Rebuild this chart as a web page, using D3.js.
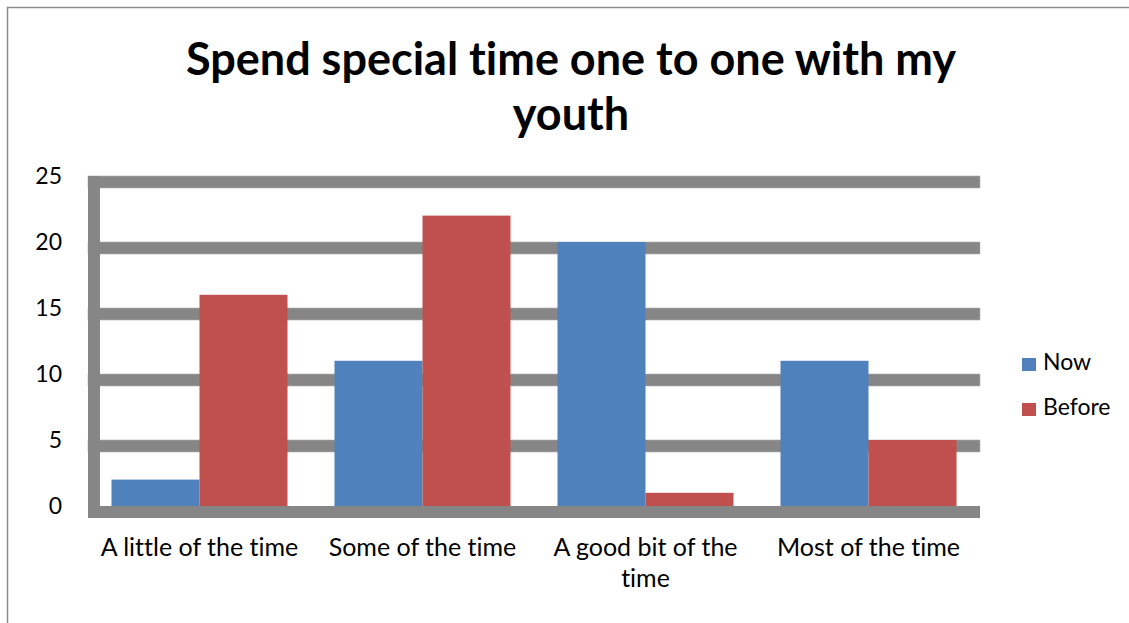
<!DOCTYPE html>
<html>
<head>
<meta charset="utf-8">
<script src="https://cdn.jsdelivr.net/npm/d3@7"></script>
<style>
  body { margin: 0; background: #fff; }
  svg text { font-family: Lato, "Liberation Sans", Arial, sans-serif; fill: #000; font-variant-ligatures: none; }
</style>
</head>
<body>
<svg id="chart" width="1129" height="623"></svg>
<script>
// chart data
const categories = ["A little of the time", "Some of the time", "A good bit of the time", "Most of the time"];
const seriesNames = ["Now", "Before"];
const nowValues = [2, 11, 20, 11];
const beforeValues = [16, 22, 1, 5];
const yTicks = [0, 5, 10, 15, 20, 25];
const titleLines = ["Spend special time one to one with my", "youth"];

const colors = { Now: "#4F81BD", Before: "#C0504D" };
const gridColor = "#868686";

var svg = d3.select("#chart");

// outer frame (runs off the bottom/right of the picture)
svg.append("rect")
  .attr("x", 7.5).attr("y", 7.5)
  .attr("width", 1140).attr("height", 640)
  .attr("fill", "none")
  .attr("stroke", "#8c8c8c")
  .attr("stroke-width", 1.5);

// title
svg.append("g").selectAll("text")
  .data(titleLines)
  .enter().append("text")
  .attr("x", 571)
  .attr("y", (d, i) => 75 + i * 55)
  .attr("text-anchor", "middle")
  .attr("font-size", 45)
  .attr("font-weight", "bold")
  .text(d => d);

// scales
var plotLeft = 88, plotRight = 980, plotTop = 176, plotBottom = 506;
var thick = 12;

var x0 = d3.scaleBand().domain(categories).range([plotLeft, plotRight]).padding(0);
var x1 = d3.scaleBand().domain(seriesNames).range([0, x0.bandwidth()])
  .paddingInner(0).paddingOuter(0.267);
var y = d3.scaleLinear().domain([0, 25]).range([plotBottom, plotTop]);

// thick gridlines (value sits at top edge, like the original)
svg.append("g").selectAll("rect")
  .data(yTicks.filter(d => d > 0))
  .enter().append("rect")
  .attr("x", plotLeft)
  .attr("y", d => y(d))
  .attr("width", plotRight - plotLeft)
  .attr("height", thick)
  .attr("fill", gridColor)
  .attr("stroke", "#b0b0b0")
  .attr("stroke-width", 0.6);

// bars
var rows = categories.map((c, i) => ({ cat: c, Now: nowValues[i], Before: beforeValues[i] }));

var groups = svg.append("g").selectAll("g")
  .data(rows)
  .enter().append("g")
  .attr("transform", d => "translate(" + x0(d.cat) + ",0)");

groups.selectAll("rect")
  .data(d => seriesNames.map(s => ({ key: s, value: d[s] })))
  .enter().append("rect")
  .attr("x", d => x1(d.key))
  .attr("y", d => y(d.value))
  .attr("width", x1.bandwidth())
  .attr("height", d => plotBottom - y(d.value))
  .attr("fill", d => colors[d.key]);

// axis bars (left and bottom, drawn thick)
svg.append("rect")
  .attr("x", plotLeft).attr("y", plotTop)
  .attr("width", thick).attr("height", plotBottom - plotTop + thick)
  .attr("fill", gridColor);
svg.append("rect")
  .attr("x", plotLeft).attr("y", plotBottom)
  .attr("width", plotRight - plotLeft).attr("height", thick)
  .attr("fill", gridColor);

// y tick labels
svg.append("g").selectAll("text")
  .data(yTicks)
  .enter().append("text")
  .attr("x", 62)
  .attr("y", d => y(d) + 8)
  .attr("text-anchor", "end")
  .attr("font-size", 23)
  .text(d => d);

// category labels, wrapped like the original
function wrapLabel(label) {
  if (label === "A good bit of the time") return ["A good bit of the", "time"];
  return [label];
}
var catLabels = svg.append("g").selectAll("text")
  .data(categories)
  .enter().append("text")
  .attr("x", d => x0(d) + x0.bandwidth() / 2)
  .attr("y", 556)
  .attr("text-anchor", "middle")
  .attr("font-size", 25);
catLabels.selectAll("tspan")
  .data(d => wrapLabel(d))
  .enter().append("tspan")
  .attr("x", function() { return d3.select(this.parentNode).attr("x"); })
  .attr("dy", (d, i) => i === 0 ? 0 : 31)
  .text(d => d);

// legend
var legend = svg.append("g").selectAll("g")
  .data(seriesNames)
  .enter().append("g")
  .attr("transform", (d, i) => "translate(1022," + (358 + i * 45) + ")");
legend.append("rect")
  .attr("width", 14).attr("height", 13)
  .attr("fill", d => colors[d]);
legend.append("text")
  .attr("x", 21).attr("y", 12)
  .attr("font-size", 23)
  .text(d => d);
</script>
</body>
</html>
